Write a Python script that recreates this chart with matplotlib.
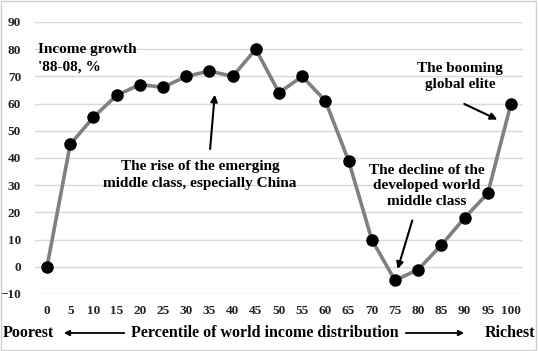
import matplotlib.pyplot as plt
from matplotlib.patches import Rectangle, FancyArrowPatch

percentiles = [0, 5, 10, 15, 20, 25, 30, 35, 40, 45, 50, 55, 60, 65, 70, 75, 80, 85, 90, 95, 100]
growth = [0, 45, 55, 63, 67, 66, 70, 72, 70, 80, 64, 70, 61, 39, 10, -5, -1, 8, 18, 27, 60]
y_ticks = [-10, 0, 10, 20, 30, 40, 50, 60, 70, 80, 90]

plt.rcParams['font.family'] = ['Liberation Serif', 'DejaVu Serif']
plt.rcParams['font.weight'] = 'bold'

fig = plt.figure(figsize=(5.38, 3.51), dpi=100)
ax = fig.add_axes([35 / 538, 1 - 294 / 351, 488 / 538, 272 / 351])

ax.plot(percentiles, growth, color='#808080', lw=2.6, marker='o', ms=8,
        mfc='black', mec='black', zorder=3)

ax.set_xlim(-2.59, 102.59)
ax.set_ylim(-10, 90)
ax.set_xticks(percentiles)
ax.set_yticks(y_ticks)
ax.tick_params(length=0, labelsize=9.5, colors='#222222')
ax.tick_params(axis='x', pad=8)
ax.tick_params(axis='y', pad=10)
ax.grid(axis='y', color='#d9d9d9', lw=1)
ax.set_axisbelow(True)
for s in ax.spines.values():
    s.set_visible(False)

fs = 11
ax.text(-1.9, 76.7, "Income growth\n'88-08, %", fontsize=fs, ha='left', va='center',
        linespacing=1.4)
ax.text(33, 33.8, "The rise of the emerging\nmiddle class, especially China", fontsize=fs,
        ha='center', va='center', linespacing=1.35)
ax.text(81.9, 29.8, "The decline of the\ndeveloped world\nmiddle class", fontsize=fs,
        ha='center', va='center', linespacing=1.25)
ax.text(89, 69.9, "The booming\nglobal elite", fontsize=fs, ha='center', va='center',
        linespacing=1.3)

arrow = dict(arrowstyle='-|>', color='black', lw=1.5, mutation_scale=10)
ax.annotate('', xy=(36.2, 64.3), xytext=(35.1, 42.3), arrowprops=arrow)
ax.annotate('', xy=(75.4, -1.8), xytext=(78.9, 18), arrowprops=arrow)
ax.annotate('', xy=(97.6, 53.7), xytext=(89.4, 60.3), arrowprops=arrow)

# bottom axis caption with arrows
yb = 1 - 333 / 351
fs2 = 11.5
fig.text(3 / 538, yb, 'Poorest', fontsize=fs2, ha='left', va='center')
fig.text(265 / 538, yb, 'Percentile of world income distribution', fontsize=fs2,
         ha='center', va='center')
fig.text(535 / 538, yb, 'Richest', fontsize=fs2, ha='right', va='center')
fig.patches.append(FancyArrowPatch(
    (127 / 538, yb), (61 / 538, yb), transform=fig.transFigure,
    arrowstyle='-|>', color='black', lw=1.3, mutation_scale=8))
fig.patches.append(FancyArrowPatch(
    (403 / 538, yb), (467 / 538, yb), transform=fig.transFigure,
    arrowstyle='-|>', color='black', lw=1.3, mutation_scale=8))

fig.patches.append(Rectangle((0.002, 0.003), 0.995, 0.994, transform=fig.transFigure,
                             fill=False, edgecolor='#d0d0d0', lw=1))

fig.savefig('out.png', dpi=100)
